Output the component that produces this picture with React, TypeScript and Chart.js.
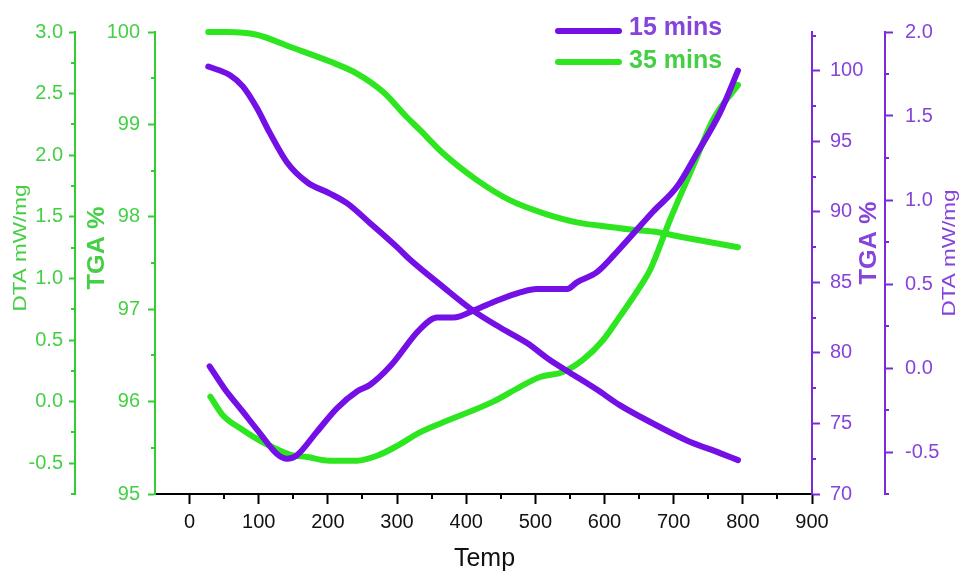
import React, { useEffect, useRef } from 'react';
import { Chart, registerables } from 'chart.js';
Chart.register(...registerables);

// ---- data ----
const seriesLabels = ['15 mins', '35 mins'];

// 15 mins – TGA % (right inner axis)
const tgaTemp15 = [27, 58, 77, 97, 116, 141, 170, 203, 228, 261, 300, 319, 366, 410, 449, 488, 521, 550, 589, 622, 670, 719, 767, 793];
const tga15 = [100.3, 99.7, 98.9, 97.4, 95.6, 93.5, 92.1, 91.3, 90.6, 89.2, 87.5, 86.6, 84.7, 83.0, 81.8, 80.7, 79.5, 78.6, 77.4, 76.3, 75.0, 73.8, 72.9, 72.4];

// 15 mins – DTA mW/mg (right outer axis)
const dtaTemp15 = [29, 50, 77, 102, 126, 141, 155, 184, 213, 242, 261, 290, 333, 358, 381, 415, 444, 478, 502, 546, 560, 589, 622, 670, 705, 734, 767, 793];
const dta15 = [0.01, -0.12, -0.26, -0.39, -0.51, -0.54, -0.52, -0.38, -0.24, -0.14, -0.10, 0.01, 0.23, 0.30, 0.30, 0.35, 0.40, 0.45, 0.47, 0.47, 0.51, 0.57, 0.71, 0.93, 1.08, 1.28, 1.52, 1.77];

// 35 mins – TGA % (left inner axis)
const tgaTemp35 = [27, 54, 97, 145, 203, 242, 280, 314, 333, 366, 415, 463, 511, 560, 608, 641, 670, 719, 757, 793];
const tga35 = [100.0, 100.0, 99.97, 99.84, 99.68, 99.55, 99.35, 99.08, 98.94, 98.69, 98.40, 98.18, 98.04, 97.94, 97.89, 97.86, 97.84, 97.77, 97.72, 97.67];

// 35 mins – DTA mW/mg (left outer axis)
const dtaTemp35 = [30, 48, 77, 106, 145, 170, 203, 242, 271, 300, 333, 366, 439, 478, 507, 540, 569, 598, 622, 651, 666, 695, 728, 757, 793];
const dta35 = [0.04, -0.11, -0.23, -0.33, -0.43, -0.45, -0.48, -0.48, -0.44, -0.36, -0.25, -0.17, 0.0, 0.12, 0.20, 0.24, 0.34, 0.50, 0.69, 0.93, 1.07, 1.48, 1.91, 2.29, 2.57];

const xTitle = 'Temp';
const dtaTitle = 'DTA mW/mg';
const tgaTitle = 'TGA %';

// ---- styles ----
const PURPLE = '#7410E6';
const PURPLE_AXIS = '#7A2ADA';
const PURPLE_TEXT = '#8644DA';
const GREEN = '#2DE620';
const GREEN_AXIS = '#33CC33';
const GREEN_TEXT = '#45CF45';
const FONT = '"Liberation Sans", Arial, sans-serif';

const zip = (xs: number[], ys: number[]) => xs.map((x, i) => ({ x, y: ys[i] }));

const isMult = (v: number, step: number) => Math.abs(v / step - Math.round(v / step)) < 1e-6;

const majorStep: Record<string, number> = { x: 100, yDtaL: 0.5, yTgaL: 1, yTgaR: 5, yDtaR: 0.5 };
const axisColor: Record<string, string> = { x: '#000', yDtaL: GREEN_AXIS, yTgaL: GREEN_AXIS, yTgaR: PURPLE_AXIS, yDtaR: PURPLE_AXIS };

const decoPlugin = {
  id: 'deco',
  afterDraw(chart: any) {
    const ctx = chart.ctx as CanvasRenderingContext2D;
    const ca = chart.chartArea;
    // minor ticks
    Object.keys(majorStep).forEach((id) => {
      const s = chart.scales[id];
      ctx.save();
      ctx.strokeStyle = axisColor[id];
      ctx.lineWidth = 2;
      s.ticks.forEach((t: any) => {
        if (isMult(t.value, majorStep[id])) return;
        const p = Math.round(s.getPixelForValue(t.value));
        ctx.beginPath();
        if (id === 'x') {
          if (t.value < 0) return;
          ctx.moveTo(p, s.top);
          ctx.lineTo(p, s.top + 5);
        } else if (s.position === 'left') {
          ctx.moveTo(s.right, p);
          ctx.lineTo(s.right - 4, p);
        } else {
          ctx.moveTo(s.left, p);
          ctx.lineTo(s.left + 4, p);
        }
        ctx.stroke();
      });
      ctx.restore();
    });

    const vText = (text: string, x: number, y: number, font: string, color: string, sx: number) => {
      ctx.save();
      ctx.translate(x, y);
      ctx.rotate(-Math.PI / 2);
      ctx.scale(sx, 1);
      ctx.font = font;
      ctx.fillStyle = color;
      ctx.textAlign = 'center';
      ctx.textBaseline = 'middle';
      ctx.fillText(text, 0, 0);
      ctx.restore();
    };
    const sL = chart.scales.yDtaL;
    const sLi = chart.scales.yTgaL;
    const sRi = chart.scales.yTgaR;
    const sR = chart.scales.yDtaR;
    vText(dtaTitle, sL.left + 21, ca.top + 216, `18px ${FONT}`, GREEN_TEXT, 1.25);
    vText(tgaTitle, sLi.left + 23, ca.top + 216, `bold 23px ${FONT}`, GREEN_TEXT, 1.1);
    vText(tgaTitle, sRi.left + 58, ca.top + 211, `bold 23px ${FONT}`, PURPLE_TEXT, 1.1);
    vText(dtaTitle, sR.left + 65, ca.top + 221, `18px ${FONT}`, PURPLE_TEXT, 1.25);

    // x title
    ctx.save();
    ctx.font = `25px ${FONT}`;
    ctx.fillStyle = '#111';
    ctx.textAlign = 'center';
    ctx.textBaseline = 'alphabetic';
    ctx.fillText(xTitle, (ca.left + ca.right) / 2 + 1, 566);
    ctx.restore();

    // legend
    const items = [
      { label: seriesLabels[0], color: PURPLE, text: PURPLE_TEXT, y: ca.top - 1, ty: ca.top - 4 },
      { label: seriesLabels[1], color: GREEN, text: GREEN_TEXT, y: ca.top + 30, ty: ca.top + 29 },
    ];
    items.forEach((it) => {
      ctx.save();
      ctx.strokeStyle = it.color;
      ctx.lineWidth = 6;
      ctx.lineCap = 'round';
      ctx.beginPath();
      ctx.moveTo(ca.left + 403, it.y);
      ctx.lineTo(ca.left + 464, it.y);
      ctx.stroke();
      ctx.font = `bold 25px ${FONT}`;
      ctx.fillStyle = it.text;
      ctx.textAlign = 'left';
      ctx.textBaseline = 'middle';
      ctx.fillText(it.label, ca.left + 474, it.ty);
      ctx.restore();
    });
  },
};

function yAxis(
  id: string,
  position: 'left' | 'right',
  weight: number,
  min: number,
  max: number,
  step: number,
  color: string,
  textColor: string,
  width: number,
  tickLength: number,
  padding: number,
  fmt: (v: number) => string
) {
  return {
    type: 'linear',
    position,
    weight,
    min,
    max,
    afterFit: (s: any) => {
      s.width = width;
    },
    ticks: {
      stepSize: step,
      includeBounds: false,
      autoSkip: false,
      padding,
      color: textColor,
      font: { family: FONT, size: 20 },
      callback: (v: any) => (isMult(Number(v), majorStep[id]) ? fmt(Number(v)) : ''),
    },
    grid: {
      drawOnChartArea: false,
      drawTicks: true,
      tickLength,
      tickWidth: 2,
      tickColor: (c: any) => (c.tick && isMult(c.tick.value, majorStep[id]) ? color : 'rgba(0,0,0,0)'),
    },
    border: { display: true, color, width: 2 },
    title: { display: false },
  };
}

export default function App() {
  const ref = useRef<HTMLCanvasElement | null>(null);
  useEffect(() => {
    if (!ref.current) return;
    const chart = new Chart(ref.current, {
      type: 'line',
      data: {
        datasets: [
          { label: seriesLabels[0], data: zip(tgaTemp15, tga15), yAxisID: 'yTgaR', borderColor: PURPLE, backgroundColor: PURPLE },
          { label: seriesLabels[0], data: zip(dtaTemp15, dta15), yAxisID: 'yDtaR', borderColor: PURPLE, backgroundColor: PURPLE },
          { label: seriesLabels[1], data: zip(tgaTemp35, tga35), yAxisID: 'yTgaL', borderColor: GREEN, backgroundColor: GREEN, clip: 6 },
          { label: seriesLabels[1], data: zip(dtaTemp35, dta35), yAxisID: 'yDtaL', borderColor: GREEN, backgroundColor: GREEN },
        ].map((d: any) => ({
          ...d,
          borderWidth: 6,
          pointRadius: 0,
          fill: false,
          cubicInterpolationMode: 'monotone',
          borderCapStyle: 'round',
          borderJoinStyle: 'round',
        })),
      },
      options: {
        animation: false,
        responsive: true,
        maintainAspectRatio: false,
        devicePixelRatio: 1,
        layout: { padding: { top: 32, left: 0, right: 0, bottom: 0 } },
        plugins: { legend: { display: false }, tooltip: { enabled: false } },
        scales: {
          x: {
            type: 'linear',
            position: 'bottom',
            min: -50,
            max: 900,
            afterFit: (s: any) => {
              s.height = 80;
            },
            ticks: {
              stepSize: 50,
              includeBounds: false,
              autoSkip: false,
              maxRotation: 0,
              padding: 6,
              color: '#111',
              font: { family: FONT, size: 20 },
              callback: (v: any) => (Number(v) >= 0 && isMult(Number(v), 100) ? String(v) : ''),
            },
            grid: {
              drawOnChartArea: false,
              drawTicks: true,
              tickLength: 10,
              tickWidth: 2,
              tickColor: (c: any) => (c.tick && c.tick.value >= 0 && isMult(c.tick.value, 100) ? '#000' : 'rgba(0,0,0,0)'),
            },
            border: { display: true, color: '#000', width: 2 },
          },
          yDtaL: yAxis('yDtaL', 'left', 2, -0.75, 3.0, 0.25, GREEN_AXIS, GREEN_TEXT, 75, 6, 6, (v) => v.toFixed(1)),
          yTgaL: yAxis('yTgaL', 'left', 1, 95, 100, 0.5, GREEN_AXIS, GREEN_TEXT, 80, 7, 8, (v) => String(Math.round(v))),
          yTgaR: yAxis('yTgaR', 'right', 1, 70, 102.75, 2.5, PURPLE_AXIS, PURPLE_TEXT, 73, 8, 10, (v) => String(Math.round(v))),
          yDtaR: yAxis('yDtaR', 'right', 2, -0.75, 2.0, 0.25, PURPLE_AXIS, PURPLE_TEXT, 78, 8, 12, (v) => v.toFixed(1)),
        } as any,
      },
      plugins: [decoPlugin],
    } as any);
    return () => chart.destroy();
  }, []);

  return (
    <div style={{ position: 'fixed', left: 0, top: 0, width: 963, height: 574, background: '#fff' }}>
      <canvas ref={ref} />
    </div>
  );
}
